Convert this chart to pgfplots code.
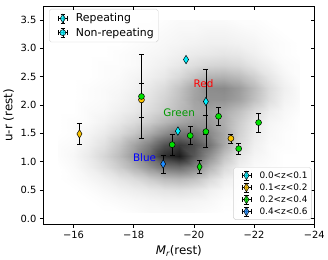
\documentclass[border=0pt]{standalone}
\usepackage{fontspec}
\setmainfont{DejaVu Sans}
\usepackage{pgfplots}
\pgfplotsset{compat=1.18}
\definecolor{ccyan}{RGB}{0,240,255}
\definecolor{cyel}{RGB}{250,195,0}
\definecolor{cgreen}{RGB}{0,225,0}
\definecolor{cblue}{RGB}{30,140,255}
\pgfplotsset{
 errleg/.style={legend image code/.code={
   \path (0bp,0bp) (22bp,0bp);
   \draw[black,line width=0.5pt] (6.5bp,0bp)--(15.5bp,0bp) (6.5bp,-2.2bp)--(6.5bp,2.2bp) (15.5bp,-2.2bp)--(15.5bp,2.2bp) (11bp,-4.5bp)--(11bp,4.5bp) (8.8bp,4.5bp)--(13.2bp,4.5bp) (8.8bp,-4.5bp)--(13.2bp,-4.5bp);
   \draw[black,line width=0.5pt] plot[only marks,#1] coordinates {(11bp,0bp)};
 }},
 common/.style={
  scale only axis, width=273bp, height=219bp,
  xmin=-24, xmax=-15, x dir=reverse, ymin=-0.1, ymax=3.73,
  xtick={-16,-18,-20,-22,-24}, ytick={0,0.5,1,1.5,2,2.5,3,3.5},
  major tick length=3.5bp,
  tick style={black, line width=0.6pt},
  axis line style={line width=0.6pt},
  ticklabel style={font=\fontsize{10}{12}\selectfont},
 },
 ebar/.style={error bars/.cd, y dir=both, y explicit,
   error bar style={black, line width=0.6pt},
   error mark options={rotate=90, black, mark size=2.5pt, line width=0.6pt}, /pgfplots/.cd},
}
\begin{document}
\begin{tikzpicture}
\begin{axis}[common,
  tick align=outside, xtick pos=left, ytick pos=left,
  xticklabels={−16,−18,−20,−22,−24},
  yticklabels={0.0,0.5,1.0,1.5,2.0,2.5,3.0,3.5},
  xlabel={{\itshape M}\textsubscript{\itshape r}(rest)},
  ylabel={u-r (rest)},
  label style={font=\fontsize{12}{14}\selectfont},
  colormap={greys}{color=(white) color=(black)},
  point meta min=0, point meta max=1,
  legend style={at={(0.021,0.99)}, anchor=north west, draw=gray!35, rounded corners=2pt,
    fill=white, fill opacity=0.8, text opacity=1, font=\fontsize{11}{13}\selectfont,
    row sep=0.5pt, inner sep=2.5pt, /tikz/every even column/.append style={column sep=5bp}},
  legend cell align=left,
]
\addlegendimage{errleg={mark=diamond*, mark size=4.3pt, mark options={fill=ccyan, xscale=0.8}}}
\addlegendentry{Repeating}
\addlegendimage{errleg={mark=*, mark size=3pt, mark options={fill=ccyan}}}
\addlegendentry{Non-repeating}
% 2D histogram background
\addplot[surf, shader=interp, mesh/cols=17, point meta=explicit, forget plot] coordinates {
(-15.5,0.1)[0] (-16,0.1)[0] (-16.5,0.1)[0] (-17,0.1)[0] (-17.5,0.1)[0] (-18,0.1)[0.01] (-18.5,0.1)[0.02] (-19,0.1)[0.02] (-19.5,0.1)[0.02] (-20,0.1)[0.02] (-20.5,0.1)[0.01] (-21,0.1)[0] (-21.5,0.1)[0] (-22,0.1)[0] (-22.5,0.1)[0] (-23,0.1)[0] (-23.5,0.1)[0]
(-15.5,0.3)[0] (-16,0.3)[0] (-16.5,0.3)[0] (-17,0.3)[0.01] (-17.5,0.3)[0.02] (-18,0.3)[0.03] (-18.5,0.3)[0.04] (-19,0.3)[0.05] (-19.5,0.3)[0.05] (-20,0.3)[0.04] (-20.5,0.3)[0.03] (-21,0.3)[0.01] (-21.5,0.3)[0] (-22,0.3)[0] (-22.5,0.3)[0] (-23,0.3)[0] (-23.5,0.3)[0]
(-15.5,0.5)[0] (-16,0.5)[0] (-16.5,0.5)[0.01] (-17,0.5)[0.03] (-17.5,0.5)[0.05] (-18,0.5)[0.07] (-18.5,0.5)[0.09] (-19,0.5)[0.11] (-19.5,0.5)[0.12] (-20,0.5)[0.10] (-20.5,0.5)[0.06] (-21,0.5)[0.03] (-21.5,0.5)[0.01] (-22,0.5)[0] (-22.5,0.5)[0] (-23,0.5)[0] (-23.5,0.5)[0]
(-15.5,0.7)[0] (-16,0.7)[0.01] (-16.5,0.7)[0.03] (-17,0.7)[0.06] (-17.5,0.7)[0.10] (-18,0.7)[0.14] (-18.5,0.7)[0.20] (-19,0.7)[0.26] (-19.5,0.7)[0.28] (-20,0.7)[0.24] (-20.5,0.7)[0.15] (-21,0.7)[0.07] (-21.5,0.7)[0.03] (-22,0.7)[0.01] (-22.5,0.7)[0] (-23,0.7)[0] (-23.5,0.7)[0]
(-15.5,0.9)[0] (-16,0.9)[0.02] (-16.5,0.9)[0.06] (-17,0.9)[0.12] (-17.5,0.9)[0.20] (-18,0.9)[0.30] (-18.5,0.9)[0.42] (-19,0.9)[0.55] (-19.5,0.9)[0.58] (-20,0.9)[0.48] (-20.5,0.9)[0.30] (-21,0.9)[0.15] (-21.5,0.9)[0.06] (-22,0.9)[0.02] (-22.5,0.9)[0.01] (-23,0.9)[0] (-23.5,0.9)[0]
(-15.5,1.1)[0.01] (-16,1.1)[0.03] (-16.5,1.1)[0.08] (-17,1.1)[0.16] (-17.5,1.1)[0.26] (-18,1.1)[0.40] (-18.5,1.1)[0.58] (-19,1.1)[0.82] (-19.5,1.1)[0.90] (-20,1.1)[0.66] (-20.5,1.1)[0.44] (-21,1.1)[0.24] (-21.5,1.1)[0.10] (-22,1.1)[0.04] (-22.5,1.1)[0.02] (-23,1.1)[0] (-23.5,1.1)[0]
(-15.5,1.3)[0.01] (-16,1.3)[0.02] (-16.5,1.3)[0.06] (-17,1.3)[0.12] (-17.5,1.3)[0.22] (-18,1.3)[0.36] (-18.5,1.3)[0.50] (-19,1.3)[0.68] (-19.5,1.3)[0.78] (-20,1.3)[0.70] (-20.5,1.3)[0.55] (-21,1.3)[0.34] (-21.5,1.3)[0.15] (-22,1.3)[0.06] (-22.5,1.3)[0.02] (-23,1.3)[0.01] (-23.5,1.3)[0]
(-15.5,1.5)[0] (-16,1.5)[0.01] (-16.5,1.5)[0.04] (-17,1.5)[0.08] (-17.5,1.5)[0.14] (-18,1.5)[0.22] (-18.5,1.5)[0.32] (-19,1.5)[0.44] (-19.5,1.5)[0.54] (-20,1.5)[0.55] (-20.5,1.5)[0.47] (-21,1.5)[0.34] (-21.5,1.5)[0.18] (-22,1.5)[0.08] (-22.5,1.5)[0.03] (-23,1.5)[0.01] (-23.5,1.5)[0]
(-15.5,1.7)[0] (-16,1.7)[0.01] (-16.5,1.7)[0.02] (-17,1.7)[0.05] (-17.5,1.7)[0.09] (-18,1.7)[0.14] (-18.5,1.7)[0.20] (-19,1.7)[0.28] (-19.5,1.7)[0.35] (-20,1.7)[0.40] (-20.5,1.7)[0.40] (-21,1.7)[0.32] (-21.5,1.7)[0.20] (-22,1.7)[0.10] (-22.5,1.7)[0.04] (-23,1.7)[0.02] (-23.5,1.7)[0]
(-15.5,1.9)[0] (-16,1.9)[0] (-16.5,1.9)[0.02] (-17,1.9)[0.03] (-17.5,1.9)[0.06] (-18,1.9)[0.09] (-18.5,1.9)[0.14] (-19,1.9)[0.20] (-19.5,1.9)[0.27] (-20,1.9)[0.34] (-20.5,1.9)[0.37] (-21,1.9)[0.33] (-21.5,1.9)[0.25] (-22,1.9)[0.15] (-22.5,1.9)[0.07] (-23,1.9)[0.03] (-23.5,1.9)[0.01]
(-15.5,2.1)[0] (-16,2.1)[0] (-16.5,2.1)[0.01] (-17,2.1)[0.02] (-17.5,2.1)[0.04] (-18,2.1)[0.07] (-18.5,2.1)[0.11] (-19,2.1)[0.17] (-19.5,2.1)[0.25] (-20,2.1)[0.36] (-20.5,2.1)[0.43] (-21,2.1)[0.43] (-21.5,2.1)[0.37] (-22,2.1)[0.25] (-22.5,2.1)[0.13] (-23,2.1)[0.05] (-23.5,2.1)[0.02]
(-15.5,2.3)[0] (-16,2.3)[0] (-16.5,2.3)[0.01] (-17,2.3)[0.02] (-17.5,2.3)[0.03] (-18,2.3)[0.05] (-18.5,2.3)[0.09] (-19,2.3)[0.14] (-19.5,2.3)[0.23] (-20,2.3)[0.35] (-20.5,2.3)[0.45] (-21,2.3)[0.46] (-21.5,2.3)[0.39] (-22,2.3)[0.27] (-22.5,2.3)[0.14] (-23,2.3)[0.06] (-23.5,2.3)[0.02]
(-15.5,2.5)[0] (-16,2.5)[0] (-16.5,2.5)[0] (-17,2.5)[0.01] (-17.5,2.5)[0.02] (-18,2.5)[0.04] (-18.5,2.5)[0.06] (-19,2.5)[0.09] (-19.5,2.5)[0.15] (-20,2.5)[0.23] (-20.5,2.5)[0.30] (-21,2.5)[0.31] (-21.5,2.5)[0.27] (-22,2.5)[0.19] (-22.5,2.5)[0.10] (-23,2.5)[0.04] (-23.5,2.5)[0.01]
(-15.5,2.7)[0] (-16,2.7)[0] (-16.5,2.7)[0] (-17,2.7)[0.01] (-17.5,2.7)[0.01] (-18,2.7)[0.02] (-18.5,2.7)[0.04] (-19,2.7)[0.06] (-19.5,2.7)[0.09] (-20,2.7)[0.13] (-20.5,2.7)[0.16] (-21,2.7)[0.17] (-21.5,2.7)[0.15] (-22,2.7)[0.10] (-22.5,2.7)[0.06] (-23,2.7)[0.02] (-23.5,2.7)[0.01]
(-15.5,2.9)[0] (-16,2.9)[0] (-16.5,2.9)[0] (-17,2.9)[0] (-17.5,2.9)[0.01] (-18,2.9)[0.02] (-18.5,2.9)[0.03] (-19,2.9)[0.04] (-19.5,2.9)[0.06] (-20,2.9)[0.08] (-20.5,2.9)[0.09] (-21,2.9)[0.10] (-21.5,2.9)[0.09] (-22,2.9)[0.06] (-22.5,2.9)[0.03] (-23,2.9)[0.01] (-23.5,2.9)[0]
(-15.5,3.1)[0] (-16,3.1)[0] (-16.5,3.1)[0] (-17,3.1)[0] (-17.5,3.1)[0] (-18,3.1)[0.01] (-18.5,3.1)[0.02] (-19,3.1)[0.03] (-19.5,3.1)[0.04] (-20,3.1)[0.05] (-20.5,3.1)[0.06] (-21,3.1)[0.06] (-21.5,3.1)[0.05] (-22,3.1)[0.04] (-22.5,3.1)[0.02] (-23,3.1)[0.01] (-23.5,3.1)[0]
(-15.5,3.3)[0] (-16,3.3)[0] (-16.5,3.3)[0] (-17,3.3)[0] (-17.5,3.3)[0] (-18,3.3)[0] (-18.5,3.3)[0.01] (-19,3.3)[0.02] (-19.5,3.3)[0.03] (-20,3.3)[0.03] (-20.5,3.3)[0.04] (-21,3.3)[0.04] (-21.5,3.3)[0.03] (-22,3.3)[0.02] (-22.5,3.3)[0.01] (-23,3.3)[0] (-23.5,3.3)[0]
(-15.5,3.5)[0] (-16,3.5)[0] (-16.5,3.5)[0] (-17,3.5)[0] (-17.5,3.5)[0] (-18,3.5)[0] (-18.5,3.5)[0] (-19,3.5)[0.01] (-19.5,3.5)[0.02] (-20,3.5)[0.02] (-20.5,3.5)[0.02] (-21,3.5)[0.02] (-21.5,3.5)[0.01] (-22,3.5)[0.01] (-22.5,3.5)[0] (-23,3.5)[0] (-23.5,3.5)[0]
};
% labels
\node[text=red, font=\fontsize{10.5}{12}\selectfont] at (axis cs:-20.32,2.38) {Red};
\node[text=green!60!black, font=\fontsize{10.5}{12}\selectfont] at (axis cs:-19.51,1.87) {Green};
\node[text=blue, font=\fontsize{10.5}{12}\selectfont] at (axis cs:-18.36,1.07) {Blue};
% yellow 0.1<z<0.2
\addplot[forget plot, only marks, mark=diamond*, mark size=4.3pt, mark options={fill=cyel, draw=black, line width=0.5pt, xscale=0.8}, ebar] table[x=x,y=y,y error=e]{
x y e
-16.20 1.49 0.19
};
\addplot[forget plot, only marks, mark=*, mark size=3pt, mark options={fill=cyel, draw=black, line width=0.5pt}, ebar] table[x=x,y=y,y error=e]{
x y e
-21.23 1.41 0.08
-18.26 2.09 0.30
};
% cyan 0.0<z<0.1
\addplot[forget plot, only marks, mark=diamond*, mark size=4.3pt, mark options={fill=ccyan, draw=black, line width=0.5pt, xscale=0.8}, ebar] table[x=x,y=y,y error=e]{
x y e
-19.74 2.80 0
-20.40 2.06 0.57
-19.47 1.54 0
};
% blue 0.4<z<0.6
\addplot[forget plot, only marks, mark=diamond*, mark size=4.3pt, mark options={fill=cblue, draw=black, line width=0.5pt, xscale=0.8}, ebar] table[x=x,y=y,y error=e]{
x y e
-18.98 0.96 0.16
};
% green 0.2<z<0.4
\addplot[forget plot, only marks, mark=diamond*, mark size=4.3pt, mark options={fill=cgreen, draw=black, line width=0.5pt, xscale=0.8}, ebar] table[x=x,y=y,y error=e]{
x y e
-20.19 0.91 0.12
};
\addplot[forget plot, only marks, mark=*, mark size=3pt, mark options={fill=cgreen, draw=black, line width=0.5pt}, ebar] table[x=x,y=y,y error=e]{
x y e
-19.28 1.30 0.18
-19.88 1.46 0.16
-20.40 1.53 0.28
-20.82 1.80 0.16
-21.49 1.23 0.10
-22.15 1.69 0.17
-18.26 2.15 0.74
};
\end{axis}
\begin{axis}[common,
  tick align=inside, xtick pos=right, ytick pos=right,
  xticklabels={}, yticklabels={},
  legend style={at={(0.99,0.02)}, anchor=south east, draw=gray!35, rounded corners=2pt,
    fill=white, fill opacity=0.8, text opacity=1, font=\fontsize{9}{10}\selectfont,
    row sep=0pt, inner sep=2pt, /tikz/every even column/.append style={column sep=1bp}},
  legend cell align=left,
]
\addlegendimage{errleg={mark=diamond*, mark size=4.3pt, mark options={fill=ccyan, xscale=0.8}}}
\addlegendentry{0.0<z<0.1}
\addlegendimage{errleg={mark=diamond*, mark size=4.3pt, mark options={fill=cyel, xscale=0.8}}}
\addlegendentry{0.1<z<0.2}
\addlegendimage{errleg={mark=diamond*, mark size=4.3pt, mark options={fill=cgreen, xscale=0.8}}}
\addlegendentry{0.2<z<0.4}
\addlegendimage{errleg={mark=diamond*, mark size=4.3pt, mark options={fill=cblue, xscale=0.8}}}
\addlegendentry{0.4<z<0.6}
\end{axis}
\end{tikzpicture}
\end{document}
